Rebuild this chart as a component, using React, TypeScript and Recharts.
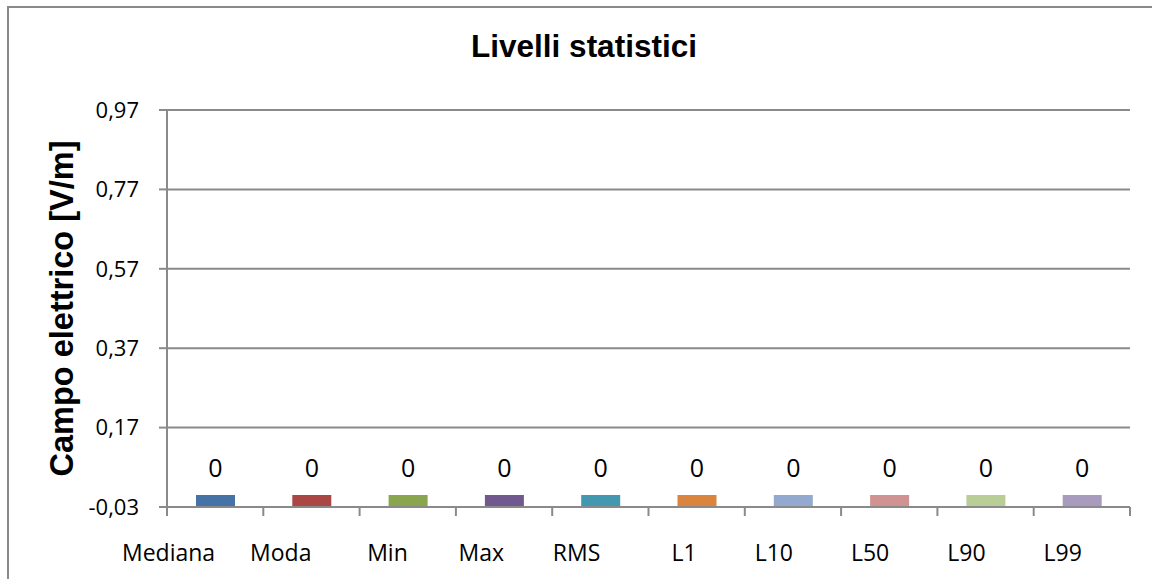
import { BarChart, Bar, XAxis, YAxis, CartesianGrid, Cell, LabelList } from "recharts";

const categories = ["Mediana", "Moda", "Min", "Max", "RMS", "L1", "L10", "L50", "L90", "L99"];
const values = [0, 0, 0, 0, 0, 0, 0, 0, 0, 0];
const barColors = ["#4572a7", "#aa4643", "#89a54e", "#71588f", "#4198af", "#db843d", "#93a9cf", "#d19392", "#b9cd96", "#a99bbd"];
const yTicks = [-0.03, 0.17, 0.37, 0.57, 0.77, 0.97];

const yMin = yTicks[0];
const yMax = yTicks[yTicks.length - 1];

const data = categories.map((name, i) => ({ name, value: values[i] }));

const W = 1152;
const H = 579;
const MARGIN = { top: 110, right: 22, left: 0, bottom: 0 };
const Y_AXIS_W = 167;
const X_AXIS_H = 72;
const TICK_MARGIN = 38;
const GRAY = "#8a8a8a";
const bodyFont = "'Open Sans', sans-serif";
const boldFont = "'Liberation Sans', Arial, sans-serif";

// larghezza di una categoria
const step = (W - MARGIN.left - MARGIN.right - Y_AXIS_W) / categories.length;

// virgola come separatore decimale
const fmt = (v: number) => v.toFixed(2).replace(".", ",");

function CategoryTick(props: any) {
  const { x, y, payload, index } = props;
  const axisY = y - TICK_MARGIN;
  const left = x - step / 2;
  const right = x + step / 2;
  return (
    <g>
      <line x1={left} x2={left} y1={axisY} y2={axisY + 9} stroke={GRAY} strokeWidth={2} />
      {index === categories.length - 1 && (
        <line x1={right} x2={right} y1={axisY} y2={axisY + 9} stroke={GRAY} strokeWidth={2} />
      )}
      {/* le etichette finiscono al centro della categoria, come nell'originale */}
      <text x={x} y={y} dy="0.71em" textAnchor="end" fill="#000" fontSize={23} fontFamily={bodyFont}>
        {payload.value}
      </text>
    </g>
  );
}

function YLabel(props: any) {
  const { viewBox } = props;
  const cx = viewBox.x + 62;
  const cy = viewBox.y + viewBox.height / 2;
  return (
    <text
      x={cx}
      y={cy}
      transform={`rotate(-90, ${cx}, ${cy})`}
      textAnchor="middle"
      dominantBaseline="central"
      fontSize={32.5}
      fontWeight="bold"
      fontFamily={boldFont}
      fill="#000"
    >
      Campo elettrico [V/m]
    </text>
  );
}

export default function App() {
  return (
    <div style={{ position: "absolute", left: 0, top: 0, width: W, height: H, overflow: "hidden", background: "#fff" }}>
      <div
        style={{
          position: "absolute",
          left: 7,
          top: 6,
          width: 1200,
          height: 650,
          border: `2px solid ${GRAY}`,
        }}
      />
      <div
        style={{
          position: "absolute",
          left: 8,
          width: 1152,
          top: 28,
          textAlign: "center",
          fontFamily: boldFont,
          fontWeight: "bold",
          fontSize: 31.5,
          lineHeight: "36px",
        }}
      >
        Livelli statistici
      </div>
      <div style={{ position: "absolute", left: 0, top: 0 }}>
        <BarChart width={W} height={H} data={data} margin={MARGIN}>
          <CartesianGrid vertical={false} stroke={GRAY} strokeWidth={2} />
          <XAxis
            dataKey="name"
            interval={0}
            height={X_AXIS_H}
            tickSize={0}
            tickMargin={TICK_MARGIN}
            tickLine={false}
            axisLine={{ stroke: GRAY, strokeWidth: 2 }}
            tick={<CategoryTick />}
          />
          <YAxis
            width={Y_AXIS_W}
            domain={[yMin, yMax]}
            ticks={yTicks}
            interval={0}
            allowDataOverflow
            tickFormatter={fmt}
            tickSize={8}
            tickMargin={20}
            axisLine={{ stroke: GRAY, strokeWidth: 2 }}
            tickLine={{ stroke: GRAY, strokeWidth: 2 }}
            tick={{ fill: "#000", fontSize: 22, fontFamily: bodyFont }}
            label={<YLabel />}
          />
          <Bar dataKey={(d: any) => [yMin, d.value]} barSize={39} isAnimationActive={false}>
            {data.map((d, i) => (
              <Cell key={d.name} fill={barColors[i]} />
            ))}
            <LabelList
              dataKey="value"
              position="top"
              offset={18}
              fill="#000"
              fontSize={25}
              fontFamily={bodyFont}
            />
          </Bar>
        </BarChart>
      </div>
    </div>
  );
}
